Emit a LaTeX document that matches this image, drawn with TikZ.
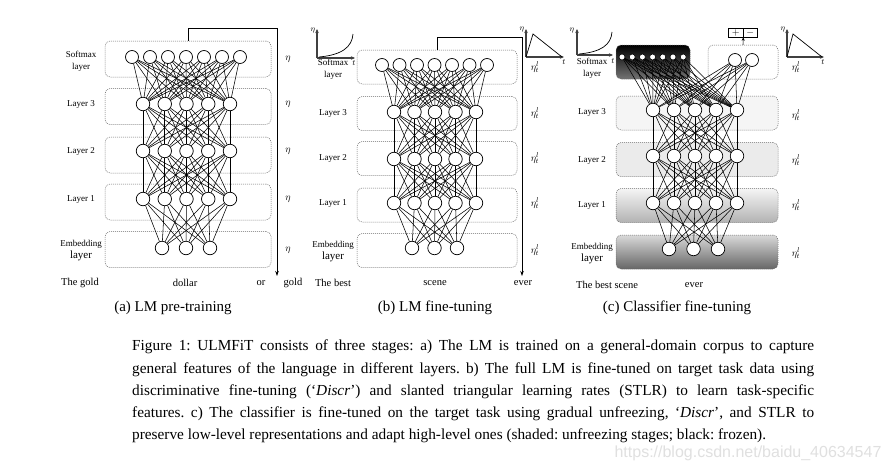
\documentclass[tikz,border=0pt]{standalone}
\usepackage{fontspec}
\setmainfont{Liberation Serif}
\newfontfamily\marcafont{Liberation Sans}
\usetikzlibrary{arrows.meta}

\begin{document}
\begin{tikzpicture}[x=1pt, y=-1pt,
    neuronio/.style={circle, draw, fill=white, line width=0.7pt, minimum size=13.5pt, inner sep=0pt},
    mini/.style={circle, draw, fill=white, line width=0.6pt, minimum size=6pt, inner sep=0pt},
    camada/.style={draw=black!60, line width=0.5pt, dash pattern=on 1pt off 1pt, rounded corners=5pt, inner sep=0pt},
    liga/.style={line width=0.55pt},
    rotulo/.style={font=\fontsize{9}{12}\selectfont, align=center, inner sep=0pt},
    palavra/.style={font=\fontsize{10.5}{12}\selectfont, inner sep=0pt},
    taxa/.style={font=\fontsize{10}{12}\selectfont, inner sep=0pt},
    eixo/.style={line width=1.1pt, black!75, -{Stealth[length=4pt,width=3.5pt]}},
    seta/.style={line width=0.8pt, -{Stealth[length=5pt,width=3.5pt]}},
    icone/.style={font=\fontsize{8}{9}\selectfont, inner sep=0pt},
    legenda/.style={font=\fontsize{15}{18}\selectfont, inner sep=0pt}]

    \fill[white] (0,0) rectangle (891,474);
    \useasboundingbox (0,0) rectangle (891,474);

    % ===== (a) pré-treino =====
    % caixas
    \foreach \n/\y in {S/59,3/106.5,2/155,1/202,E/249.5}
        \node[camada, minimum width=166pt, minimum height=36pt] (aB\n) at (188,\y) {};

    % neurônios
    \foreach \k in {1,...,7}
        \node[neuronio, minimum size=13pt] (aS\k) at ({132+18*(\k-1)},57) {};
    \foreach \c/\y in {3/104,2/151,1/199}
    \foreach \k in {1,...,5}
        \node[neuronio] (a\c-\k) at ({143+21.75*(\k-1)},\y) {};
    \foreach \k in {1,2,3}
        \node[neuronio] (aE\k) at ({162+24*(\k-1)},248) {};

    % ligações
    \foreach \i in {1,...,7}
    \foreach \j in {1,...,5}
        \draw[liga] (aS\i) -- (a3-\j);
    \foreach \i in {1,...,5}
    \foreach \j in {1,...,5}
        {\draw[liga] (a3-\i) -- (a2-\j); \draw[liga] (a2-\i) -- (a1-\j);}
    \foreach \i in {1,...,5}
    \foreach \j in {1,2,3}
        \draw[liga] (a1-\i) -- (aE\j);

    % rótulos
    \node[rotulo] (aLS) at (81,61) {Softmax\\layer};
    \node[rotulo] (aL3) at (81,104) {Layer 3};
    \node[rotulo] (aL2) at (81,151) {Layer 2};
    \node[rotulo] (aL1) at (81,199) {Layer 1};
    \node[rotulo] (aLE) at (81,251) {Embedding\\{\fontsize{11}{12}\selectfont layer}};
    \foreach \n/\y in {S/59,3/104,2/151,1/199,E/250}
        \node[taxa] (aT\n) at (288,\y) {$\eta$};

    % seta
    \coordinate (aFim) at (277,276);
    \draw[seta] (aBS.north) -- ++(0,-12) -| (aFim);

    % palavras
    \node[palavra] (aW1) at (80,283) {The gold};
    \node[palavra] (aW2) at (185,283) {dollar};
    \node[palavra] (aW3) at (261,283) {or};
    \node[palavra] (aW4) at (293,283) {gold};
    \node[legenda] (aCap) at (173,308) {(a) LM pre-training};

    % ===== (b) ajuste fino do LM =====
    \foreach \n/\y in {S/67,3/113.5,2/158.5,1/205,E/250.5}
        \node[camada, minimum width=160pt, minimum height=34pt] (bB\n) at (437,\y) {};

    \foreach \k in {1,...,7}
        \node[neuronio, minimum size=13pt] (bS\k) at ({382+17.5*(\k-1)},65) {};
    \foreach \c/\y in {3/112,2/159,1/203}
    \foreach \k in {1,...,5}
        \node[neuronio] (b\c-\k) at ({394+20.5*(\k-1)},\y) {};
    \foreach \k in {1,2,3}
        \node[neuronio] (bE\k) at ({412+22.5*(\k-1)},248) {};

    \foreach \i in {1,...,7}
    \foreach \j in {1,...,5}
        \draw[liga] (bS\i) -- (b3-\j);
    \foreach \i in {1,...,5}
    \foreach \j in {1,...,5}
        {\draw[liga] (b3-\i) -- (b2-\j); \draw[liga] (b2-\i) -- (b1-\j);}
    \foreach \i in {1,...,5}
    \foreach \j in {1,2,3}
        \draw[liga] (b1-\i) -- (bE\j);

    \node[rotulo] (bLS) at (333,69) {Softmax\\layer};
    \node[rotulo] (bL3) at (333,113) {Layer 3};
    \node[rotulo] (bL2) at (333,158) {Layer 2};
    \node[rotulo] (bL1) at (333,203) {Layer 1};
    \node[rotulo] (bLE) at (333,252) {Embedding\\{\fontsize{11}{12}\selectfont layer}};
    \foreach \n/\y in {S/67,3/113,2/158,1/203,E/250}
        \node[taxa] (bT\n) at (535,\y) {$\eta^l_t$};

    \coordinate (bFim) at (522,276);
    \draw[seta] (bBS.north) -- ++(0,-12) -| (bFim);

    % curvas de taxa
    \draw[eixo] (317,58) -- (317,29);
    \draw[eixo] (317,58) -- (355,58);
    \draw[line width=0.7pt] (319,57) .. controls (342,55) and (352,47) .. (353,34);
    \node[icone] at (313,31) {$\eta$};
    \node[icone] at (354,63) {$t$};

    \draw[eixo] (526,57) -- (526,29);
    \draw[eixo] (526,57) -- (564,57);
    \draw[line width=0.7pt] (526,57) -- (533,34) -- (562,57);
    \node[icone] at (522,30) {$\eta$};
    \node[icone] at (564,62) {$t$};

    \node[palavra] (bW1) at (333,283) {The best};
    \node[palavra] (bW2) at (435,283) {scene};
    \node[palavra] (bW3) at (523,283) {ever};
    \node[legenda] (bCap) at (435,308) {(b) LM fine-tuning};

    % ===== (c) ajuste fino do classificador =====
    \node[camada, minimum width=162pt, minimum height=34pt, fill=black!4] (cB3) at (697,113) {};
    \node[camada, minimum width=162pt, minimum height=34pt, fill=black!8] (cB2) at (697,159.5) {};
    \node[camada, minimum width=162pt, minimum height=34pt, top color=black!4, bottom color=black!30] (cB1) at (697,205.5) {};
    \node[camada, minimum width=162pt, minimum height=34pt, top color=black!15, bottom color=black!60] (cBE) at (697,252) {};
    \node[camada, minimum width=74pt, minimum height=34pt, top color=black, bottom color=black!55] (cBS) at (653,62) {};
    \node[camada, minimum width=70pt, minimum height=34pt] (cBH) at (743,62) {};

    \foreach \k in {1,...,7}
        \node[mini] (cS\k) at ({622+10.2*(\k-1)},57) {};
    \foreach \k in {1,2}
        \node[neuronio, minimum size=13pt] (cH\k) at ({735+17*(\k-1)},60) {};
    \foreach \c/\y in {3/110,2/156,1/203}
    \foreach \k in {1,...,5}
        \node[neuronio] (c\c-\k) at ({653+21*(\k-1)},\y) {};
    \foreach \k in {1,2,3}
        \node[neuronio] (cE\k) at ({669+24.5*(\k-1)},249) {};

    \foreach \i in {1,...,7}
    \foreach \j in {1,...,5}
        \draw[liga] (cS\i) -- (c3-\j);
    \foreach \i in {1,2}
    \foreach \j in {1,...,5}
        \draw[liga] (cH\i) -- (c3-\j);
    \foreach \i in {1,...,5}
    \foreach \j in {1,...,5}
        {\draw[liga] (c3-\i) -- (c2-\j); \draw[liga] (c2-\i) -- (c1-\j);}
    \foreach \i in {1,...,5}
    \foreach \j in {1,2,3}
        \draw[liga] (c1-\i) -- (cE\j);

    % saída +/-
    \node[draw, line width=0.6pt, minimum width=14.5pt, minimum height=9pt, inner sep=0pt, font=\fontsize{10}{10}\selectfont] (mais) at (735.75,32.5) {$+$};
    \node[draw, line width=0.6pt, minimum width=14.5pt, minimum height=9pt, inner sep=0pt, font=\fontsize{10}{10}\selectfont] (menos) at (750.25,32.5) {$-$};
    \draw[line width=0.6pt, -{Stealth[length=3.5pt,width=3pt]}] (cBH.north) -- (mais.south east);

    \node[rotulo] (cLS) at (592,68.5) {Softmax\\layer};
    \node[rotulo] (cL3) at (592,112) {Layer 3};
    \node[rotulo] (cL2) at (592,160) {Layer 2};
    \node[rotulo] (cL1) at (592,205) {Layer 1};
    \node[rotulo] (cLE) at (592,253.5) {Embedding\\{\fontsize{11}{12}\selectfont layer}};
    \foreach \n/\y in {S/67,3/115,2/160,1/205,E/253}
        \node[taxa] (cT\n) at (796,\y) {$\eta^l_t$};

    \draw[eixo] (577,55) -- (577,29);
    \draw[eixo] (577,55) -- (613,55);
    \draw[line width=0.7pt] (579,54) .. controls (601,52) and (611,45) .. (612,32);
    \node[icone] at (572,31) {$\eta$};
    \node[icone] at (613,61) {$t$};

    \draw[eixo] (787,57) -- (787,29);
    \draw[eixo] (787,57) -- (824,57);
    \draw[line width=0.7pt] (787,57) -- (793,34) -- (822,57);
    \node[icone] at (783,30) {$\eta$};
    \node[icone] at (823,62) {$t$};

    \node[palavra] (cW1) at (607,285) {The best scene};
    \node[palavra] (cW2) at (694,285) {ever};
    \node[legenda] (cCap) at (677,308) {(c) Classifier fine-tuning};

    % legenda da figura
    \node[anchor=north west, text width=682pt, align=justify, inner sep=0pt,
          font=\fontsize{15.3}{22.2}\selectfont] (fig) at (132,340)
        {\frenchspacing\hyphenpenalty=10000\parfillskip=0pt
        Figure 1: ULMFiT consists of three stages: a) The LM is trained on a general-domain corpus to capture\linebreak
        general features of the language in different layers. b) The full LM is fine-tuned on target task data using\linebreak
        discriminative fine-tuning (‘\textit{Discr}’) and slanted triangular learning rates (STLR) to learn task-specific\linebreak
        features. c) The classifier is fine-tuned on the target task using gradual unfreezing, ‘\textit{Discr}’, and STLR to\linebreak
        preserve low-level representations and adapt high-level ones (shaded: unfreezing stages; black: frozen).};

    \node[font=\marcafont\fontsize{16}{18}\selectfont, text=black!12, inner sep=0pt] (marca) at (748,453) {https://blog.csdn.net/baidu\_40634547};
\end{tikzpicture}
\end{document}
